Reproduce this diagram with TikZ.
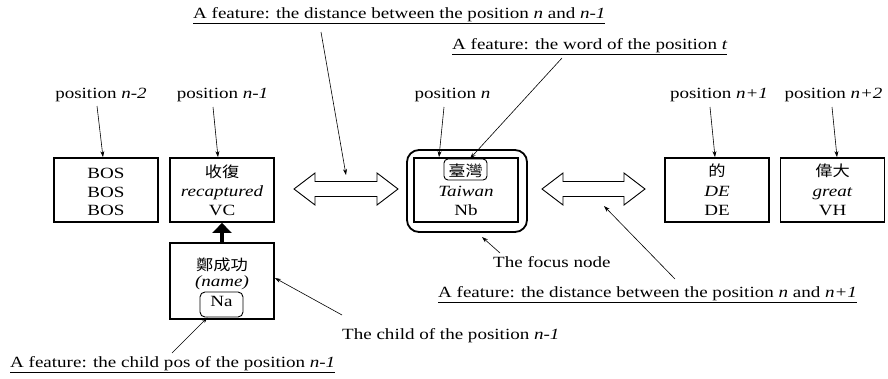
\documentclass[tikz,border=0pt]{standalone}
\usepackage{fontspec}
\setmainfont{Liberation Serif}[FakeStretch=1.22]
\newfontfamily\cjk{Noto Sans CJK TC}[FakeStretch=1.15]
\usetikzlibrary{arrows.meta}
\begin{document}
\begin{tikzpicture}[x=1pt,y=-1pt,
  font=\fontsize{15.6}{19}\selectfont,
  wbox/.style={draw,line width=1.8pt,minimum width=104pt,minimum height=64pt,inner sep=0pt},
  smallbox/.style={draw,line width=0.9pt,rounded corners=5pt,inner sep=0pt},
  txt/.style={inner sep=0pt,anchor=base},
  ctxt/.style={inner sep=0pt,anchor=center,font=\cjk\fontsize{15}{19}\selectfont},
  lab/.style={inner sep=0pt,anchor=base west},
  conn/.style={line width=0.6pt,-{Stealth[length=6pt,width=4pt]}},
  darrow/.style={draw,line width=0.9pt,fill=white,line join=miter}
]
\useasboundingbox (0,0) rectangle (888,378);

% boxes
\node[wbox] (bos) at (106,190) {};
\node[wbox] (rec) at (222,190) {};
\node[wbox,minimum height=76pt] (child) at (222,281) {};
\node[smallbox,minimum width=43pt,minimum height=25pt] (na) at (221.5,304.5) {};
\node[draw,line width=1.8pt,rounded corners=12pt,minimum width=120pt,minimum height=82pt,inner sep=0pt] (focus) at (467,191) {};
\node[wbox] (tw) at (466,190) {};
\node[smallbox,minimum width=43pt,minimum height=21pt,rounded corners=4pt] (twword) at (465.5,169.5) {};
\node[wbox] (de) at (717,190) {};
\node[wbox] (great) at (832.5,190) {};

% box texts
\node[txt] (b1) at (106,178) {BOS};
\node[txt] (b2) at (106,197) {BOS};
\node[txt] (b3) at (106,215.5) {BOS};
\node[ctxt] (r1) at (222,172) {收復};
\node[txt] (r2) at (222,196.5) {\textit{recaptured}};
\node[txt] (r3) at (222,215.5) {VC};
\node[ctxt] (c1) at (222,265) {鄭成功};
\node[txt] (c2) at (222,286.5) {\textit{(name)}};
\node[txt] (c3) at (221.5,306) {Na};
\node[ctxt] (t1) at (465.5,170.5) {臺灣};
\node[txt] (t2) at (466,196) {\textit{Taiwan}};
\node[txt] (t3) at (466,215.5) {Nb};
\node[ctxt] (d1) at (717,171) {的};
\node[txt] (d2) at (717,196.5) {\textit{DE}};
\node[txt] (d3) at (717,215.5) {DE};
\node[ctxt] (g1) at (832.5,171) {偉大};
\node[txt] (g2) at (832.5,196.5) {\textit{great}};
\node[txt] (g3) at (832.5,215.5) {VH};

% position labels
\node[txt] (pn2) at (101,98) {position \textit{n-2}};
\node[txt] (pn1) at (222.5,98) {position \textit{n-1}};
\node[txt] (pn) at (452.5,98) {position \textit{n}};
\node[txt] (pp1) at (719,98) {position \textit{n+1}};
\node[txt] (pp2) at (833.5,98) {position \textit{n+2}};

% feature labels
\node[lab] (fdl) at (193,18) {\underline{A feature: the distance between the position \textit{n} and \textit{n-1}}};
\node[lab] (fw) at (452,49) {\underline{A feature: the word of the position \textit{t}}};
\node[lab] (ffocus) at (493,267) {The focus node};
\node[lab] (fdr) at (438,297) {\underline{A feature: the distance between the position \textit{n} and \textit{n+1}}};
\node[lab] (fchild) at (342,339) {The child of the position \textit{n-1}};
\node[lab] (fcpos) at (10,367) {\underline{A feature: the child pos of the position \textit{n-1}}};

% double arrows
\draw[darrow] (294,189) -- (315,173) -- (315,181.5) -- (377,181.5) -- (377,173) -- (398,189)
  -- (377,205) -- (377,196.5) -- (315,196.5) -- (315,205) -- cycle;
\draw[darrow] (542,189) -- (563,173) -- (563,181.5) -- (624,181.5) -- (624,173) -- (645,189)
  -- (624,205) -- (624,196.5) -- (563,196.5) -- (563,205) -- cycle;
\coordinate (dlt) at (346,175);
\coordinate (drt) at (604,206);

% connector tails
\coordinate (pn2t) at (97,106);
\coordinate (pn1t) at (213,107);
\coordinate (pnt) at (444,107);
\coordinate (pp1t) at (710,107);
\coordinate (pp2t) at (832,107);
\coordinate (fwt) at (562,58);
\coordinate (fdlt) at (321,32);
\coordinate (ffocust) at (500,253);
\coordinate (fdrt) at (675,279);
\coordinate (fchildt) at (342,315);
\coordinate (fcpost) at (172,353);

% connectors
\draw[conn] (pn2t) -- ([xshift=-3pt]bos.north);
\draw[conn] (pn1t) -- ([xshift=-4pt]rec.north);
\draw[conn] (pnt) -- ([xshift=-27pt]tw.north);
\draw[conn] (pp1t) -- ([xshift=-2pt]de.north);
\draw[conn] (pp2t) -- ([xshift=4.5pt]great.north);
\draw[conn] (fwt) -- ([xshift=4.5pt]twword.north);
\draw[conn] (fdlt) -- (dlt);
\draw[conn] (ffocust) -- (482,237);
\draw[conn] (fdrt) -- (drt);
\draw[conn] (fchildt) -- ([yshift=3pt]child.east);
\draw[conn] (fcpost) -- ([xshift=-14pt]na.south);

% thick arrow child -> parent
\draw[line width=4pt,-{Triangle[length=10pt,width=19pt]}] (child.north) -- (rec.south);
\end{tikzpicture}
\end{document}
